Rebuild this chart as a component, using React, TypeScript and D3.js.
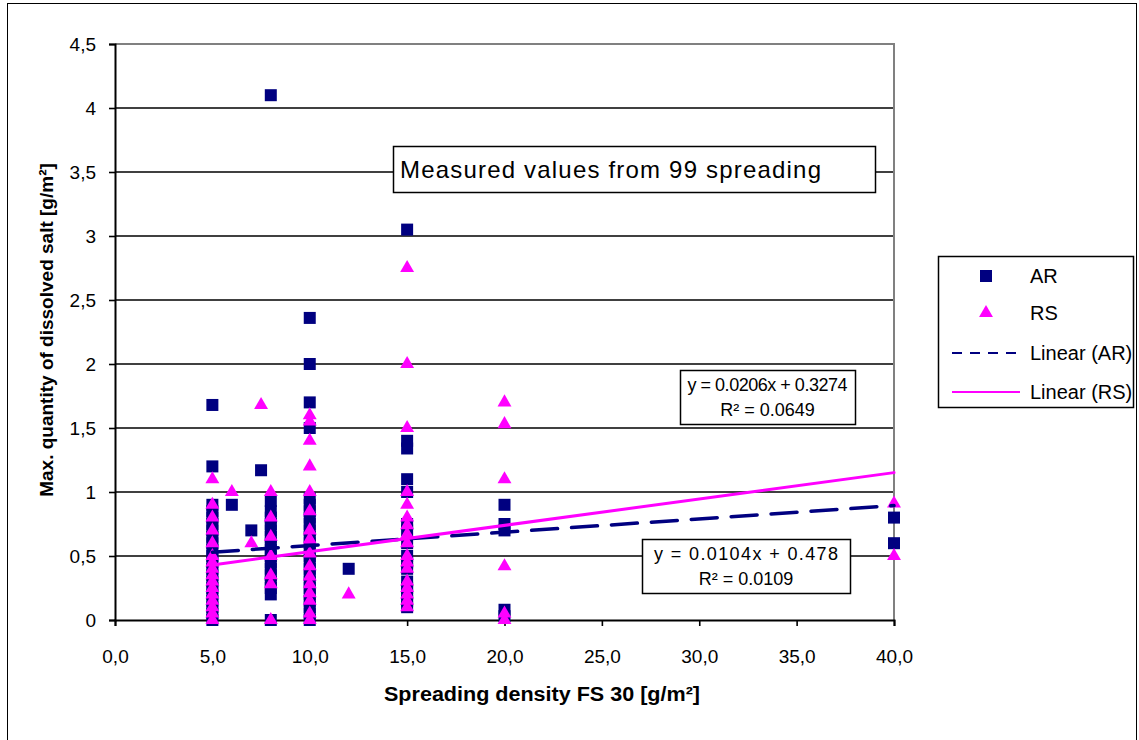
import React, { useEffect, useRef } from "react";
import * as d3 from "d3";

// AR series (navy squares): [spreading density, max dissolved salt]
const AR_DATA: [number, number][] = [
  [5, 1.68], [5, 1.2], [5, 0.9], [5, 0.85], [5, 0.8], [5, 0.75], [5, 0.7], [5, 0.65], [5, 0.6],
  [5, 0.55], [5, 0.5], [5, 0.45], [5, 0.4], [5, 0.35], [5, 0.3], [5, 0.25], [5, 0.2], [5, 0.15],
  [5, 0.1], [5, 0.05], [5, 0],
  [6, 0.9], [7, 0.7], [7.5, 1.17],
  [8, 4.1], [8, 0.93], [8, 0.85], [8, 0.8], [8, 0.75], [8, 0.7], [8, 0.65], [8, 0.6], [8, 0.55],
  [8, 0.5], [8, 0.45], [8, 0.4], [8, 0.35], [8, 0.3], [8, 0.25], [8, 0.2], [8, 0],
  [10, 2.36], [10, 2.0], [10, 1.7], [10, 1.5], [10, 0.95], [10, 0.9], [10, 0.85], [10, 0.8],
  [10, 0.75], [10, 0.7], [10, 0.65], [10, 0.6], [10, 0.55], [10, 0.5], [10, 0.45], [10, 0.4],
  [10, 0.35], [10, 0.3], [10, 0.25], [10, 0.2], [10, 0.15], [10, 0.1], [10, 0.05], [10, 0],
  [12, 0.4],
  [15, 3.05], [15, 1.4], [15, 1.34], [15, 1.1], [15, 1.0], [15, 0.75], [15, 0.7], [15, 0.6],
  [15, 0.5], [15, 0.45], [15, 0.4], [15, 0.3], [15, 0.25], [15, 0.2], [15, 0.15], [15, 0.1],
  [20, 0.9], [20, 0.75], [20, 0.7], [20, 0.08], [20, 0.03],
  [40, 0.8], [40, 0.6],
];

// RS series (magenta triangles)
const RS_DATA: [number, number][] = [
  [5, 1.1], [5, 0.9], [5, 0.8], [5, 0.7], [5, 0.6], [5, 0.5], [5, 0.45], [5, 0.4], [5, 0.35],
  [5, 0.3], [5, 0.25], [5, 0.2], [5, 0.15], [5, 0.1], [5, 0.05], [5, 0],
  [6, 1.0], [7, 0.6], [7.5, 1.68],
  [8, 1.0], [8, 0.8], [8, 0.65], [8, 0.5], [8, 0.35], [8, 0.28], [8, 0],
  [10, 1.6], [10, 1.55], [10, 1.4], [10, 1.2], [10, 1.0], [10, 0.85], [10, 0.7], [10, 0.63],
  [10, 0.52], [10, 0.42], [10, 0.34], [10, 0.28], [10, 0.21], [10, 0.15], [10, 0.05], [10, 0],
  [12, 0.2],
  [15, 2.75], [15, 2.0], [15, 1.5], [15, 1.0], [15, 0.9], [15, 0.8], [15, 0.74], [15, 0.67],
  [15, 0.6], [15, 0.5], [15, 0.45], [15, 0.4], [15, 0.3], [15, 0.25], [15, 0.2], [15, 0.15], [15, 0.1],
  [20, 1.7], [20, 1.53], [20, 1.1], [20, 0.42], [20, 0.05], [20, 0],
  [40, 0.91], [40, 0.5],
];

// trendline coefficients [slope, intercept] as printed on the chart
const AR_FIT = [0.0104, 0.478];
const RS_FIT = [0.0206, 0.3274];

const X_TICKS = [0, 5, 10, 15, 20, 25, 30, 35, 40];
const Y_TICKS = [0, 0.5, 1, 1.5, 2, 2.5, 3, 3.5, 4, 4.5];

const LEGEND = ["AR", "RS", "Linear (AR)", "Linear (RS)"];

const NAVY = "#000080";
const MAGENTA = "#FF00FF";
const FONT = "'Liberation Sans', Arial, sans-serif";

export default function App() {
  const ref = useRef<SVGSVGElement>(null);

  useEffect(() => {
    const svg = d3.select(ref.current);
    svg.selectAll("*").remove();

    const x = d3.scaleLinear().domain([0, 40]).range([115, 894]);
    const y = d3.scaleLinear().domain([0, 4.5]).range([620, 44]);

    // chart border
    svg.append("rect")
      .attr("x", 7.5).attr("y", 3.5).attr("width", 1129).attr("height", 760)
      .attr("fill", "white").attr("stroke", "black").attr("stroke-width", 1);

    // gridlines
    svg.append("g").selectAll("line")
      .data(Y_TICKS.filter(t => t > 0 && t < 4.5))
      .enter().append("line")
      .attr("x1", x(0)).attr("x2", x(40))
      .attr("y1", d => y(d)).attr("y2", d => y(d))
      .attr("stroke", "black").attr("stroke-width", 1.6);

    // plot area top / right border
    svg.append("path")
      .attr("d", `M${x(0)},${y(4.5)}H${x(40)}V${y(0)}`)
      .attr("fill", "none").attr("stroke", "#808080").attr("stroke-width", 2);

    // y axis
    const yAxis = svg.append("g").attr("transform", `translate(${x(0)},0)`)
      .call(d3.axisLeft(y).tickValues(Y_TICKS).tickSize(6).tickPadding(13)
        .tickFormat(d => String(d).replace(".", ",")));
    yAxis.select(".domain").attr("stroke", "black").attr("stroke-width", 2);
    yAxis.selectAll(".tick line").attr("stroke", "black").attr("stroke-width", 1.6);
    yAxis.selectAll("text").attr("font-family", FONT).attr("font-size", 19).attr("fill", "black");

    // x axis
    const xAxis = svg.append("g").attr("transform", `translate(0,${y(0)})`)
      .call(d3.axisBottom(x).tickValues(X_TICKS).tickSize(6).tickPadding(24)
        .tickFormat(d => (d as number).toFixed(1).replace(".", ",")));
    xAxis.select(".domain").attr("stroke", "black").attr("stroke-width", 2);
    xAxis.selectAll(".tick line").attr("stroke", "black").attr("stroke-width", 1.6);
    xAxis.selectAll("text").attr("font-family", FONT).attr("font-size", 19).attr("fill", "black");

    // markers
    svg.append("g").selectAll("rect")
      .data(AR_DATA).enter().append("rect")
      .attr("x", d => x(d[0]) - 6).attr("y", d => y(d[1]) - 6)
      .attr("width", 12).attr("height", 12).attr("fill", NAVY);

    const tri = d3.symbol().type(d3.symbolTriangle).size(84);
    svg.append("g").selectAll("path")
      .data(RS_DATA).enter().append("path")
      .attr("d", tri)
      .attr("transform", d => `translate(${x(d[0])},${y(d[1])})`)
      .attr("fill", MAGENTA);

    // trendlines
    const fitLine = (data: [number, number][], fit: number[], color: string, width: number, dash: string | null) => {
      const [x0, x1] = d3.extent(data, d => d[0]) as [number, number];
      const line = d3.line<number>().x(d => x(d)).y(d => y(fit[0] * d + fit[1]));
      svg.append("path")
        .attr("d", line([x0, x1]))
        .attr("fill", "none").attr("stroke", color).attr("stroke-width", width)
        .attr("stroke-linecap", "round")
        .attr("stroke-dasharray", dash);
    };
    fitLine(AR_DATA, AR_FIT, NAVY, 3.5, "26,14");
    fitLine(RS_DATA, RS_FIT, MAGENTA, 3, null);

    // text boxes
    const box = (bx: number, by: number, bw: number, bh: number) =>
      svg.append("rect").attr("x", bx + 0.5).attr("y", by + 0.5).attr("width", bw).attr("height", bh)
        .attr("fill", "white").attr("stroke", "black").attr("stroke-width", 1.5);

    box(393, 146, 482, 46);
    svg.append("text").attr("x", 400).attr("y", 178)
      .attr("font-family", FONT).attr("font-size", 24)
      .attr("textLength", 421).attr("lengthAdjust", "spacing")
      .text("Measured values from 99 spreading");

    const eqBox = (bx: number, by: number, bw: number, tw: number, fit: number[], r2: string) => {
      box(bx, by, bw, 54);
      const cx = bx + bw / 2;
      svg.append("text").attr("x", cx).attr("y", by + 21).attr("text-anchor", "middle")
        .attr("font-family", FONT).attr("font-size", 18)
        .attr("textLength", tw).attr("lengthAdjust", "spacing")
        .text(`y = ${fit[0]}x + ${fit[1]}`);
      svg.append("text").attr("x", cx).attr("y", by + 46).attr("text-anchor", "middle")
        .attr("font-family", FONT).attr("font-size", 18)
        .text(`R² = ${r2}`);
    };
    eqBox(680, 370, 175, 160, RS_FIT, "0.0649");
    eqBox(642, 539, 208, 184, AR_FIT, "0.0109");

    // axis titles
    svg.append("text").attr("x", 542).attr("y", 701).attr("text-anchor", "middle")
      .attr("font-family", FONT).attr("font-size", 20).attr("font-weight", "bold")
      .attr("textLength", 316).attr("lengthAdjust", "spacingAndGlyphs")
      .text("Spreading density FS 30 [g/m²]");
    svg.append("text").attr("transform", `translate(53,330) rotate(-90)`).attr("text-anchor", "middle")
      .attr("font-family", FONT).attr("font-size", 19).attr("font-weight", "bold")
      .text("Max. quantity of dissolved salt [g/m²]");

    // legend
    box(938, 256, 195, 151);
    const rowY = [276, 313, 353, 392];
    const lg = svg.append("g");
    lg.append("rect").attr("x", 980).attr("y", rowY[0] - 6).attr("width", 12).attr("height", 12).attr("fill", NAVY);
    lg.append("path").attr("d", tri).attr("transform", `translate(986,${rowY[1]})`).attr("fill", MAGENTA);
    lg.append("line").attr("x1", 952).attr("x2", 1020).attr("y1", rowY[2]).attr("y2", rowY[2])
      .attr("stroke", NAVY).attr("stroke-width", 2).attr("stroke-dasharray", "10,8");
    lg.append("line").attr("x1", 952).attr("x2", 1020).attr("y1", rowY[3]).attr("y2", rowY[3])
      .attr("stroke", MAGENTA).attr("stroke-width", 2);
    lg.selectAll("text").data(LEGEND).enter().append("text")
      .attr("x", 1030).attr("y", (d, i) => rowY[i] + 7)
      .attr("font-family", FONT).attr("font-size", 20).text(d => d);
  }, []);

  return (
    <svg ref={ref} width={1139} height={740}
      style={{ position: "absolute", left: 0, top: 0, display: "block", background: "white" }} />
  );
}
